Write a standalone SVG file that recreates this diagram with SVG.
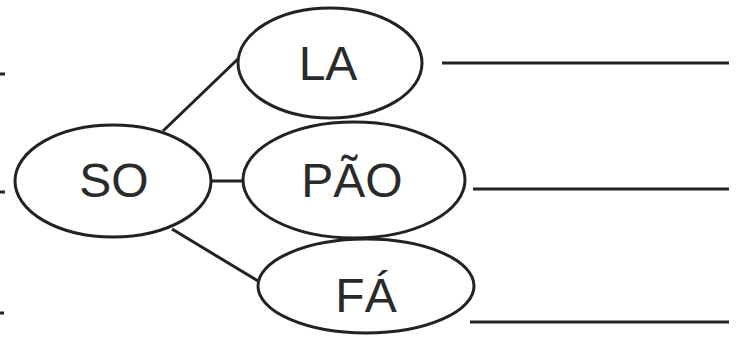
<svg xmlns="http://www.w3.org/2000/svg" width="739" height="337" viewBox="0 0 739 337">
<style>
.n{fill:#fff;stroke:#222;stroke-width:3}
.c{stroke:#222;stroke-width:3;fill:none}
.t{font-family:"Liberation Sans",Arial,sans-serif;font-size:48px;fill:#2a2a2a;text-anchor:middle}
</style>
<rect width="739" height="337" fill="#fff"/>
<g id="connectors">
<line class="c" x1="163" y1="131" x2="240" y2="57"/>
<line class="c" x1="211" y1="181" x2="244" y2="181"/>
<line class="c" x1="172" y1="229" x2="258" y2="281"/>
<line class="c" x1="442" y1="63" x2="729" y2="63"/>
<line class="c" x1="473" y1="189" x2="729" y2="189"/>
<line class="c" x1="470" y1="322" x2="729" y2="322"/>
<line class="c" x1="0" y1="74" x2="5" y2="74"/>
<line class="c" x1="0" y1="192" x2="5" y2="192"/>
<line class="c" x1="0" y1="313" x2="4" y2="313"/>
</g>
<g id="SO">
<ellipse class="n" cx="113" cy="181" rx="98" ry="56"/>
<text class="t" x="114" y="197">SO</text>
</g>
<g id="LA">
<ellipse class="n" cx="330" cy="63" rx="92" ry="55"/>
<text class="t" x="328" y="80">LA</text>
</g>
<g id="PAO">
<ellipse class="n" cx="354" cy="180" rx="111" ry="58"/>
<text class="t" x="352" y="197">PÃO</text>
</g>
<g id="FA">
<ellipse class="n" cx="366" cy="286" rx="108" ry="47"/>
<text class="t" x="366" y="312">FÁ</text>
</g>
</svg>
